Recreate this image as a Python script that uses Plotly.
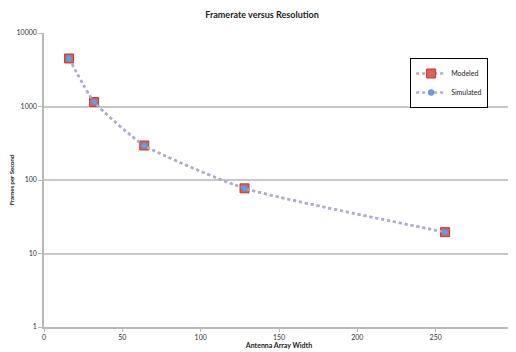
import plotly.graph_objects as go

widths = [16, 32, 64, 128, 256]
modeled = [4500, 1150, 295, 77, 19.5]
simulated = [4500, 1150, 295, 77, 19.5]
y_ticks = [1, 10, 100, 1000, 10000]
x_ticks = [0, 50, 100, 150, 200, 250, 300]

fig = go.Figure()
fig.add_trace(go.Scatter(
    x=widths, y=modeled, name="Modeled", mode="lines+markers",
    line=dict(color="#c9a3b8", width=2.5, dash="dot", shape="spline", smoothing=0.5),
    marker=dict(symbol="square", size=9, color="#e0605a", line=dict(color="#c0392b", width=1)),
))
fig.add_trace(go.Scatter(
    x=widths, y=simulated, name="Simulated", mode="lines+markers",
    line=dict(color="#a8b0d0", width=2.5, dash="dot", shape="spline", smoothing=0.5),
    marker=dict(symbol="circle", size=6, color="#6a9be0", line=dict(color="#5585cc", width=0.5)),
))

# page body has an 8px margin: figure sized/placed to land in the 516x352 window
fig.update_layout(
    width=508, height=344,
    margin=dict(l=36, r=2, t=25, b=25, autoexpand=False),
    paper_bgcolor="white", plot_bgcolor="white",
    font=dict(family="Lato, Open Sans, sans-serif", size=7, color="#333"),
    title=dict(text="<b>Framerate versus Resolution</b>", x=0.5, xanchor="center",
               yref="container", y=1 - 7 / 344, yanchor="middle",
               font=dict(size=9, color="#222")),
    showlegend=True,
    legend=dict(x=0.779, y=0.915, xanchor="left", yanchor="top", bordercolor="black", borderwidth=1,
                font=dict(size=7, color="#222"), bgcolor="white", itemwidth=30, tracegroupgap=0),
    xaxis=dict(range=[0, 300], tickvals=x_ticks, ticktext=[str(v) for v in x_ticks],
               showgrid=False, showline=True, linecolor="#b8b8b8", linewidth=1.5,
               ticks="outside", ticklen=3, tickcolor="#b8b8b8", zeroline=False, automargin=False,
               ticklabeloverflow="allow",
               title=dict(text="<b>Antenna Array Width</b>", font=dict(size=7, color="#222"), standoff=2)),
    yaxis=dict(type="log", range=[0, 4], tickvals=y_ticks, ticktext=[str(v) for v in y_ticks],
               showgrid=True, gridcolor="#c8c8c8", gridwidth=1.5,
               showline=True, linecolor="#b8b8b8", linewidth=1.5, automargin=False,
               ticks="outside", ticklen=4, tickcolor="#b8b8b8", zeroline=False,
               title=dict(text="<b>Frames per Second</b>", font=dict(size=6, color="#222"), standoff=2)),
)

fig.write_html("out.html")
